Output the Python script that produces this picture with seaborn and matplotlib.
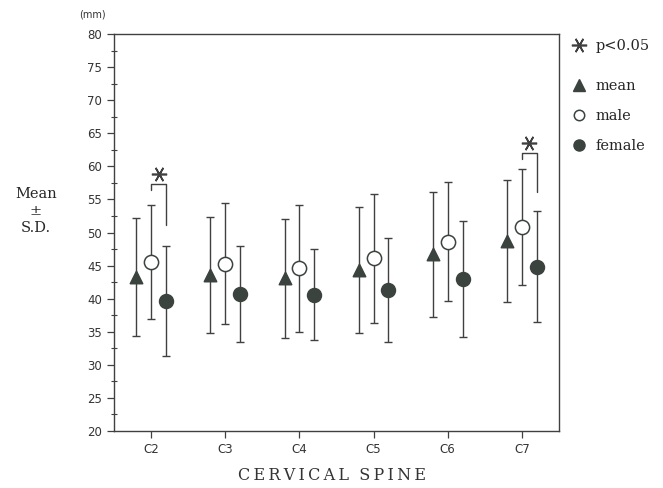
import matplotlib.pyplot as plt
import numpy as np
import pandas as pd
import seaborn as sns
from matplotlib.lines import Line2D

# cervical levels
LEVELS = ["C2", "C3", "C4", "C5", "C6", "C7"]

# mean +- SD (mm)
mean_avg = [43.3, 43.6, 43.1, 44.3, 46.7, 48.7]
mean_sd = [8.9, 8.8, 9.0, 9.5, 9.4, 9.2]
male_avg = [45.5, 45.3, 44.6, 46.1, 48.6, 50.8]
male_sd = [8.6, 9.1, 9.6, 9.8, 9.0, 8.8]
female_avg = [39.6, 40.7, 40.6, 41.3, 43.0, 44.8]
female_sd = [8.3, 7.2, 6.9, 7.8, 8.8, 8.4]

# significant male/female differences (p<0.05)
sig_levels = ["C2", "C7"]
sig_bracket_y = [57.4, 62.1]
sig_bracket_right_end = [51.1, 56.1]
sig_star_y = [58.9, 63.6]

DARK = "#3b433e"
LINE = "#404040"
OFFSET = 0.2
SERIF = "DejaVu Serif"


def build_frame():
    rows = []
    groups = [
        ("mean", mean_avg, mean_sd, -OFFSET),
        ("male", male_avg, male_sd, 0.0),
        ("female", female_avg, female_sd, OFFSET),
    ]
    for name, avgs, sds, off in groups:
        for i, (m, s) in enumerate(zip(avgs, sds)):
            rows.append({"level": LEVELS[i], "x": i + off, "group": name, "value": m, "sd": s})
    return pd.DataFrame(rows)


def spaced(text):
    # letter-spaced label like the typewriter original
    return "  ".join("\u2009".join(word) for word in text.split())


def create_plot():
    sns.set_style("ticks")
    plt.rcParams["font.family"] = ["DejaVu Sans"]

    df = build_frame()

    fig = plt.figure(figsize=(6.63, 4.88), dpi=100)
    ax = fig.add_axes([0.172, 0.117, 0.671, 0.813])

    # error bars first so markers sit on top
    ax.errorbar(
        df["x"], df["value"], yerr=df["sd"], fmt="none",
        ecolor=LINE, elinewidth=1.0, capsize=3, capthick=1.0, zorder=1,
    )

    markers = {"mean": "^", "male": "o", "female": "o"}
    face = {"mean": DARK, "male": "white", "female": DARK}
    sizes = {"mean": 80, "male": 105, "female": 100}
    for name in ["mean", "male", "female"]:
        sub = df[df["group"] == name]
        sns.scatterplot(
            data=sub, x="x", y="value", marker=markers[name], s=sizes[name],
            color=face[name], edgecolor=DARK, linewidth=1.1, ax=ax, zorder=3,
            legend=False,
        )

    # significance brackets between male and female
    for lvl, by, rend, sy in zip(sig_levels, sig_bracket_y, sig_bracket_right_end, sig_star_y):
        i = LEVELS.index(lvl)
        x0, x1 = i, i + OFFSET
        ax.plot([x0, x0, x1, x1], [by - 1.0, by, by, rend], color=LINE, lw=1.0, zorder=2)
        ax.plot([(x0 + x1) / 2], [sy], marker=(6, 2, 30), ms=11, mew=1.2,
                color=LINE, linestyle="none", zorder=3)

    ax.set_xlim(-0.5, len(LEVELS) - 0.5)
    ax.set_ylim(20, 80)
    ax.set_xticks(np.arange(len(LEVELS)))
    ax.set_xticklabels(LEVELS)
    ax.set_yticks(np.arange(20, 81, 5))
    ax.set_yticks(np.arange(22.5, 80, 5), minor=True)
    ax.tick_params(axis="both", which="major", direction="out", length=5,
                   width=0.9, color=LINE, labelsize=8.5, labelcolor="#333333")
    ax.tick_params(axis="y", which="minor", direction="inout", length=4,
                   width=0.8, color=LINE)
    ax.tick_params(axis="x", which="major", pad=4)
    for side in ["left", "right", "top", "bottom"]:
        ax.spines[side].set_visible(True)
        ax.spines[side].set_color(LINE)
        ax.spines[side].set_linewidth(1.0)

    ax.set_xlabel("")
    ax.set_ylabel("")

    fig.text(0.14, 0.97, "(mm)", fontsize=7, ha="center", va="center", color="#333333")
    fig.text(0.054, 0.603, "Mean", family=SERIF, fontsize=10.5, ha="center", va="center")
    fig.text(0.054, 0.567, "±", family=SERIF, fontsize=10.5, ha="center", va="center")
    fig.text(0.054, 0.532, "S.D.", family=SERIF, fontsize=10.5, ha="center", va="center")
    fig.text(0.5, 0.008, spaced("CERVICAL SPINE"), family=SERIF, fontsize=11.5,
             ha="center", va="bottom", color="#333333")

    # legend at the right
    star = Line2D([], [], marker=(6, 2, 30), ms=11, mew=1.2, color=LINE, linestyle="none")
    leg1 = ax.legend(
        handles=[star], labels=["p<0.05"], loc="upper left",
        bbox_to_anchor=(0.99, 1.02), frameon=False, handletextpad=0.4,
        prop={"family": SERIF, "size": 10.5}, handlelength=1.5,
    )
    ax.add_artist(leg1)
    handles = [
        Line2D([], [], marker="^", ms=8, color=DARK, linestyle="none"),
        Line2D([], [], marker="o", ms=7.5, mfc="white", mec=DARK, mew=1.1, linestyle="none"),
        Line2D([], [], marker="o", ms=8, color=DARK, linestyle="none"),
    ]
    ax.legend(
        handles=handles, labels=["mean", "male", "female"], loc="upper left",
        bbox_to_anchor=(0.99, 0.92), frameon=False, handletextpad=0.4,
        labelspacing=1.1, prop={"family": SERIF, "size": 10.5}, handlelength=1.5,
    )

    fig.savefig("out.png", dpi=100)


if __name__ == "__main__":
    create_plot()
